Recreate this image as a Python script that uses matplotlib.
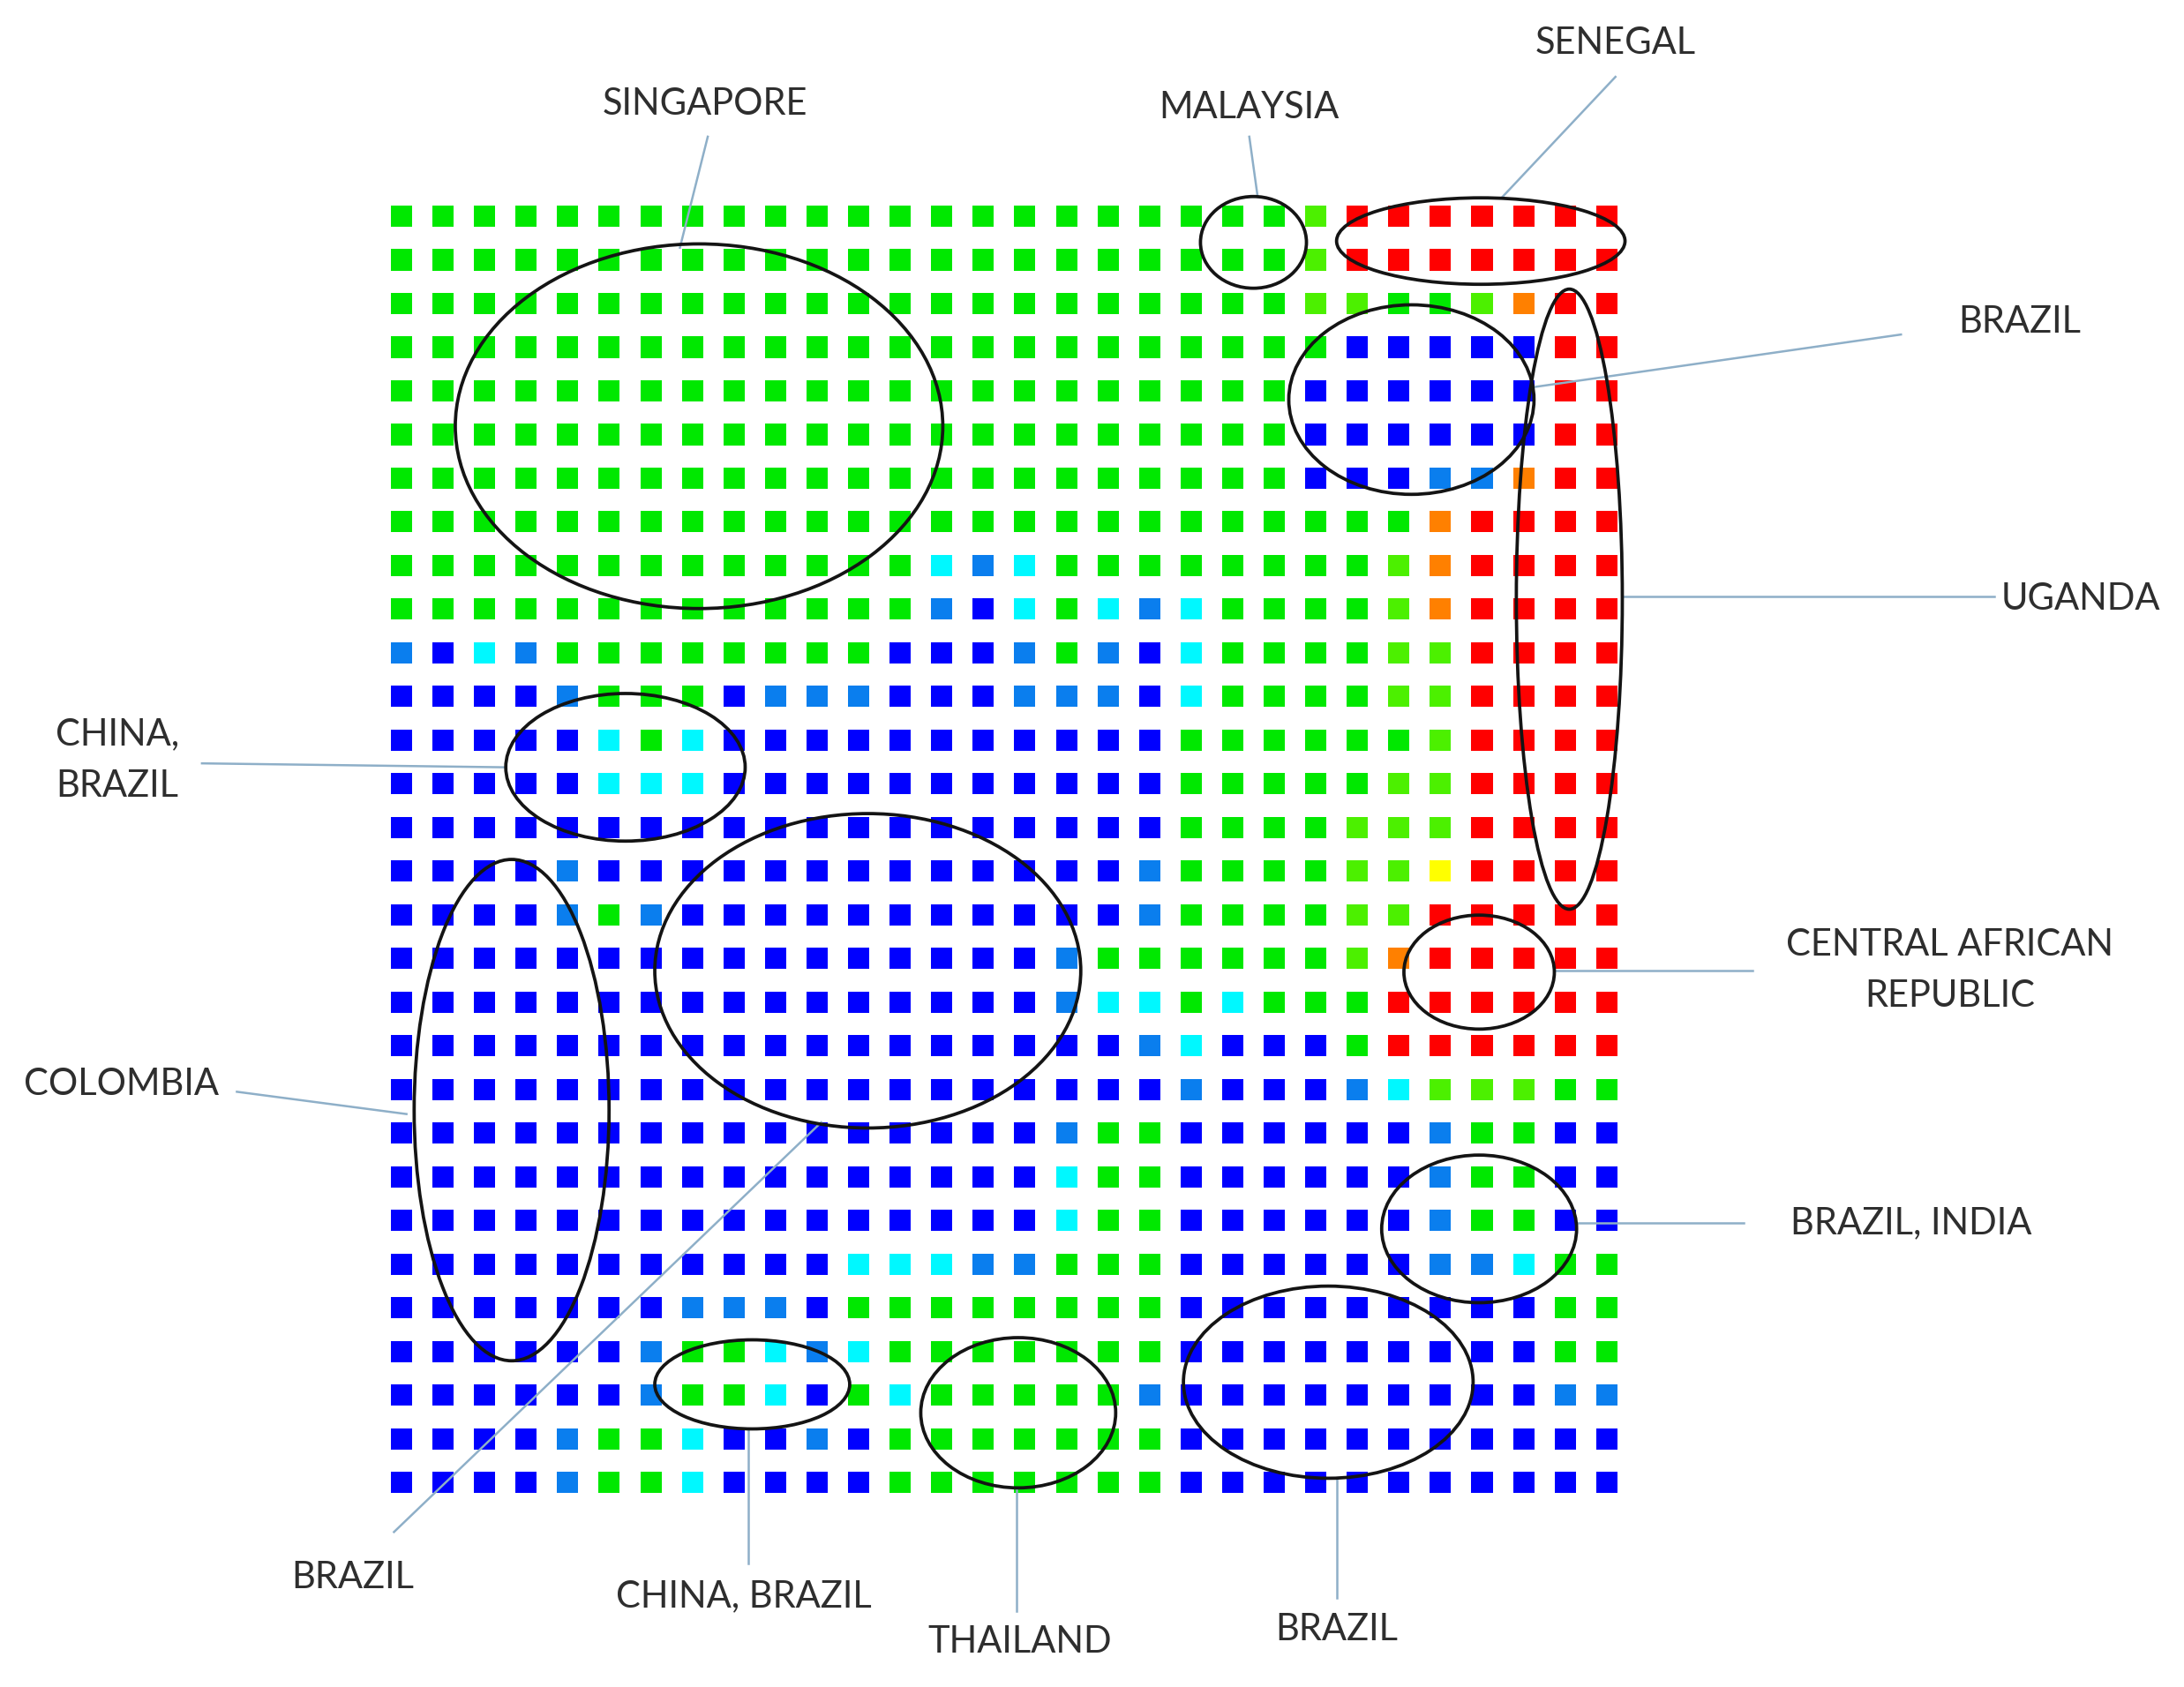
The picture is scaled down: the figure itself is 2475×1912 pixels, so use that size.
import matplotlib
matplotlib.use("Agg")
import matplotlib.pyplot as plt
from matplotlib.patches import Ellipse
import numpy as np

# SOM node classes, one string per row (top to bottom), 30 nodes each
# B blue, M mid blue, C cyan, G green, L lime, Y yellow, O orange, R red
som_rows = [
    "GGGGGGGGGGGGGGGGGGGGGGLRRRRRRR",
    "GGGGGGGGGGGGGGGGGGGGGGLRRRRRRR",
    "GGGGGGGGGGGGGGGGGGGGGGLLGGLORR",
    "GGGGGGGGGGGGGGGGGGGGGGGBBBBBRR",
    "GGGGGGGGGGGGGGGGGGGGGGBBBBBBRR",
    "GGGGGGGGGGGGGGGGGGGGGGBBBBBBRR",
    "GGGGGGGGGGGGGGGGGGGGGGBBBMMORR",
    "GGGGGGGGGGGGGGGGGGGGGGGGGORRRR",
    "GGGGGGGGGGGGGCMCGGGGGGGGLORRRR",
    "GGGGGGGGGGGGGMBCGCMCGGGGLORRRR",
    "MBCMGGGGGGGGBBBMGMBCGGGGLLRRRR",
    "BBBBMGGGBMMMBBBMMMBCGGGGLLRRRR",
    "BBBBBCGCBBBBBBBBBBBGGGGGGLRRRR",
    "BBBBBCCCBBBBBBBBBBBGGGGGLLRRRR",
    "BBBBBBBBBBBBBBBBBBBGGGGLLLRRRR",
    "BBBBMBBBBBBBBBBBBBMGGGGLLYRRRR",
    "BBBBMGMBBBBBBBBBBBMGGGGLLRRRRR",
    "BBBBBBBBBBBBBBBBMGGGGGGLORRRRR",
    "BBBBBBBBBBBBBBBBMCCGCGGGRRRRRR",
    "BBBBBBBBBBBBBBBBBBMCBBBGRRRRRR",
    "BBBBBBBBBBBBBBBBBBBMBBBMCLLLGG",
    "BBBBBBBBBBBBBBBBMGGBBBBBBMGGBB",
    "BBBBBBBBBBBBBBBBCGGBBBBBBMGGBB",
    "BBBBBBBBBBBBBBBBCGGBBBBBBMGGBB",
    "BBBBBBBBBBBCCCMMGGGBBBBBBMMCGG",
    "BBBBBBBMMMBGGGGGGGGBBBBBBBBBGG",
    "BBBBBBMGGCMCGGGGGGGBBBBBBBBBGG",
    "BBBBBBMGGCBGCGGGGGMBBBBBBBBBMM",
    "BBBBMGGCBBMBGGGGGGGBBBBBBBBBBB",
    "BBBBMGGCBBBBGGGGGGGBBBBBBBBBBB",
]

class_colors = {
    "B": "#0000FF",
    "M": "#0A7EEE",
    "C": "#00F8FF",
    "G": "#00E800",
    "L": "#4CF000",
    "Y": "#FFFF00",
    "O": "#FF8000",
    "R": "#FF0000",
}

# cluster labels
labels = ["SINGAPORE", "MALAYSIA", "SENEGAL", "BRAZIL", "UGANDA",
          "CHINA,\nBRAZIL", "CENTRAL AFRICAN\nREPUBLIC", "COLOMBIA",
          "BRAZIL, INDIA", "BRAZIL", "CHINA, BRAZIL", "THAILAND", "BRAZIL"]

# ellipse (cx, cy, w, h) in node units, label pos, leader line start/end, alignment
layout = [
    ((7.16, 4.81, 11.73, 8.35), (7.3, -2.56), (7.37, -1.82), (6.7, 0.72), "center"),
    ((20.5, 0.6, 2.55, 2.1), (20.4, -2.49), (20.4, -1.82), (20.6, -0.45), "center"),
    ((25.97, 0.57, 6.94, 1.98), (29.21, -3.96), (29.21, -3.19), (26.47, -0.42), "center"),
    ((24.3, 4.2, 5.9, 4.34), (38.93, 2.42), (36.08, 2.71), (27.2, 3.92), "center"),
    ((28.1, 8.77, 2.55, 14.2), (40.41, 8.76), (38.33, 8.7), (29.38, 8.7), "center"),
    ((5.39, 12.62, 5.76, 3.38), (-8.32, 12.46), (-4.8, 12.53), (2.5, 12.62), "left"),
    ((25.93, 17.31, 3.62, 2.61), (37.26, 17.28), (32.5, 17.28), (27.74, 17.28), "center"),
    ((2.65, 20.47, 4.69, 11.48), (-6.74, 19.89), (-3.96, 20.05), (0.12, 20.56), "center"),
    ((25.93, 23.19, 4.69, 3.38), (36.32, 23.05), (32.3, 23.05), (28.27, 23.05), "center"),
    ((11.22, 17.28, 10.25, 7.2), (-1.18, 31.18), (-0.18, 30.13), (10.1, 20.75), "center"),
    ((8.44, 26.75, 4.69, 2.04), (8.24, 31.6), (8.34, 30.86), (8.34, 27.77), "center"),
    ((14.84, 27.4, 4.69, 3.44), (14.87, 32.65), (14.8, 31.95), (14.8, 29.11), "center"),
    ((22.3, 26.7, 6.97, 4.4), (22.51, 32.36), (22.51, 31.63), (22.51, 28.89), "center"),
]

n_rows = len(som_rows)
n_cols = len(som_rows[0])
rr, cc = np.mgrid[0:n_rows, 0:n_cols]
cols = [class_colors[ch] for row in som_rows for ch in row]

fig = plt.figure(figsize=(24.75, 19.12), dpi=100)
ax = fig.add_axes([0, 0, 1, 1])
ax.set_xlim(-9.66, 42.89)
ax.set_ylim(33.68, -4.95)
ax.axis("off")

ax.scatter(cc.ravel(), rr.ravel(), c=cols, marker="s", s=300, linewidths=0, zorder=2)

for lab, (ell, tpos, p0, p1, ha) in zip(labels, layout):
    cx, cy, w, h = ell
    ax.add_patch(Ellipse((cx, cy), w, h, fill=False, edgecolor="#141414", lw=2.7, zorder=4))
    ax.plot([p0[0], p1[0]], [p0[1], p1[1]], color="#8eafc8", lw=1.8, zorder=3)
    ax.text(tpos[0], tpos[1], lab, ha=ha, va="center", multialignment="center" if ha == "center" else "left",
            fontsize=30, family="Lato", color="#2e2e2e", linespacing=1.65, zorder=5)

fig.savefig("out.png", dpi=100)
